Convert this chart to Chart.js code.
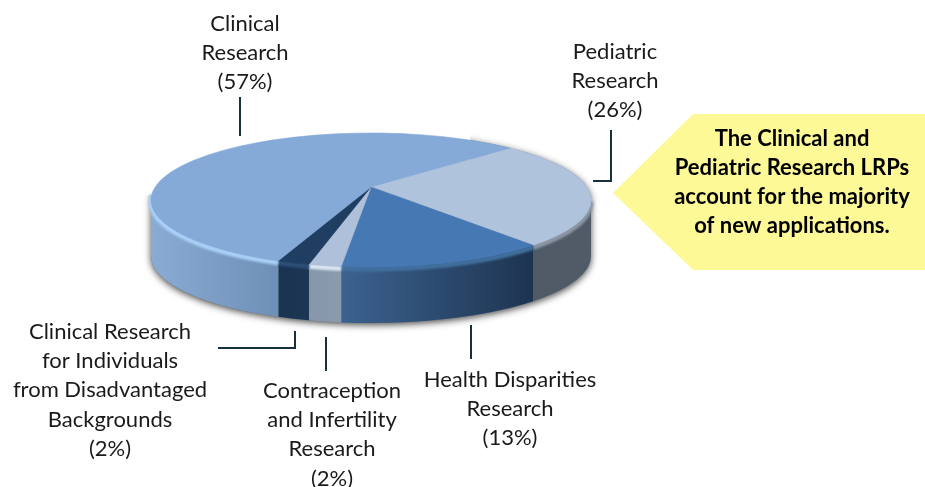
<!DOCTYPE html>
<html><head><meta charset="utf-8">
<script src="https://cdn.jsdelivr.net/npm/chart.js@4"></script>
<style>html,body{margin:0;padding:0;background:#fff}canvas{display:block}</style>
</head><body>
<div style="width:925px;height:487px"><canvas id="c" width="925" height="487"></canvas></div>
<script>
// ---- data ----
const categories = ["Pediatric Research","Health Disparities Research","Contraception and Infertility Research","Clinical Research for Individuals from Disadvantaged Backgrounds","Clinical Research"];
const values = [26,13,2,2,57];
const labelLines = [
  ["Pediatric","Research"],
  ["Health Disparities","Research"],
  ["Contraception","and Infertility","Research"],
  ["Clinical Research","for Individuals","from Disadvantaged","Backgrounds"],
  ["Clinical","Research"]
];
const calloutLines = ["The Clinical and","Pediatric Research LRPs","account for the majority","of new applications."];
// ---- styles ----
const topColors  = ["#b0c3dd","#4679b3","#aec0da","#1f3e62","#85aad8"];
const sideColors = [["#4f5a66","#515b68"],["#3c6290","#1d3450"],["#8697aa","#8a9bae"],["#1a3350","#1c3654"],["#8aabd4","#6e8fb6"]];
const bevelColors= ["#8d98a6","#41709f","#dbe6f3","#2c5078","#a9d1f7"];
// ---- layout ----
const labelPos = [[615,52],[510,380],[332,391],[110,332],[245,24]];
const lineStep = 29.2;
const leaders = [
  [[593,181],[611,181],[611,130]],
  [[471,325],[471,359]],
  [[326,337],[326,371]],
  [[218,348],[295,348],[295,331]],
  [[240,97],[240,136]]
];
const calloutPoly = [[613,193],[693,114],[925,114],[925,270],[693,270]];
const ELLIPSE_CY = 200, SQUASH = 67/220, DEPTH = 56, TILT = 0.09, APEX_V = -0.194;

// Perspective: rim angle of the true circle -> parametric angle on the drawn ellipse
function rimAngle(t){
  const zr=Math.cos(t), zi=Math.sin(t), ai=-TILT;
  const nr=zr, ni=zi+ai;
  const dr=1+ai*zi, di=-ai*zr;
  return Math.atan2(ni*dr-nr*di, nr*dr+ni*di);
}
function angles(el){
  const t1=rimAngle(el.startAngle); let t2=rimAngle(el.endAngle);
  while(t2<=t1) t2+=Math.PI*2;
  return [t1,t2];
}
class Arc3D extends Chart.ArcElement{
  draw(ctx){
    const rx=this.outerRadius, ry=rx*SQUASH, cx=this.x;
    const [t1,t2]=angles(this);
    ctx.save();
    ctx.beginPath();
    ctx.moveTo(cx, ELLIPSE_CY+APEX_V*ry);
    ctx.ellipse(cx,ELLIPSE_CY,rx,ry,0,t1,t2);
    ctx.closePath();
    ctx.fillStyle=this.options.backgroundColor;
    ctx.strokeStyle=this.options.backgroundColor;
    ctx.lineWidth=0.6;
    ctx.fill();ctx.stroke();
    ctx.restore();
  }
}
Arc3D.id='arc3d';
Arc3D.defaults=Chart.ArcElement.defaults;
Arc3D.defaultRoutes=Chart.ArcElement.defaultRoutes;
Arc3D.descriptors=Chart.ArcElement.descriptors;
class Pie3D extends Chart.PieController{}
Pie3D.id='pie3d';
Pie3D.defaults=Object.assign({},Chart.PieController.defaults,{dataElementType:'arc3d'});
Pie3D.overrides=Chart.PieController.overrides;
Chart.register(Arc3D,Pie3D);

const depthPlugin={
  id:'depth',
  beforeDatasetsDraw(chart){
    const ctx=chart.ctx, els=chart.getDatasetMeta(0).data, e0=els[0];
    const cx=e0.x, rx=e0.outerRadius, ry=rx*SQUASH, cy=ELLIPSE_CY;
    // drop shadow of the disc: below the rim and along the far right only
    ctx.save();
    ctx.beginPath();
    ctx.rect(0,195,925,292);
    ctx.rect(470,0,455,195);
    ctx.clip();
    ctx.shadowColor='rgba(30,30,30,0.8)';ctx.shadowBlur=7;ctx.shadowOffsetX=0;ctx.shadowOffsetY=2;
    ctx.fillStyle='#6f7f92';
    ctx.beginPath();
    ctx.ellipse(cx,cy,rx,ry,0,Math.PI,0);
    ctx.ellipse(cx,cy+DEPTH,rx,ry,0,0,Math.PI);
    ctx.closePath();ctx.fill();
    ctx.restore();
    // front walls
    els.forEach((el,i)=>{
      const [t1,t2]=angles(el);
      const a=Math.max(t1,0), b=Math.min(t2,Math.PI);
      if(b<=a) return;
      const g=ctx.createLinearGradient(cx+rx*Math.cos(b),0,cx+rx*Math.cos(a),0);
      g.addColorStop(0,sideColors[i][0]);g.addColorStop(1,sideColors[i][1]);
      ctx.beginPath();
      ctx.ellipse(cx,cy,rx,ry,0,a,b);
      ctx.ellipse(cx,cy+DEPTH,rx,ry,0,b,a,true);
      ctx.closePath();
      ctx.fillStyle=g;ctx.fill();
    });
    // bevel along the front rim; the lit slice wraps a little round the left end
    els.forEach((el,i)=>{
      const [t1,t2]=angles(el);
      const a=Math.max(t1,0), b=t2>Math.PI+0.5?Math.PI+0.12:Math.min(t2,Math.PI);
      if(b<=a) return;
      ctx.save();
      ctx.filter='blur(1.2px)';
      ctx.strokeStyle=bevelColors[i];ctx.lineWidth=5;
      ctx.beginPath();ctx.ellipse(cx,cy+2,rx,ry,0,a,b);ctx.stroke();
      ctx.restore();
    });
  },
  afterDatasetsDraw(chart){
    const ctx=chart.ctx;
    ctx.save();
    // leaders
    ctx.strokeStyle='#16303c';ctx.lineWidth=2;
    leaders.forEach(l=>{
      ctx.beginPath();
      l.forEach((p,i)=>i?ctx.lineTo(p[0],p[1]):ctx.moveTo(p[0],p[1]));
      ctx.stroke();
    });
    // callout
    ctx.fillStyle='#fdf996';
    ctx.beginPath();
    calloutPoly.forEach((p,i)=>i?ctx.lineTo(p[0],p[1]):ctx.moveTo(p[0],p[1]));
    ctx.closePath();ctx.fill();
    // labels
    ctx.textAlign='center';ctx.textBaseline='middle';ctx.fillStyle='#1a1a1a';
    ctx.font='22px Lato';
    categories.forEach((c,i)=>{
      const lines=labelLines[i].concat(['('+values[i]+'%)']);
      lines.forEach((t,j)=>ctx.fillText(t,labelPos[i][0],labelPos[i][1]+j*lineStep));
    });
    ctx.font='bold 22px Lato';ctx.fillStyle='#000';
    calloutLines.forEach((t,j)=>ctx.fillText(t,792,139+j*29));
    ctx.restore();
  }
};

new Chart(document.getElementById('c'),{
  type:'pie3d',
  data:{labels:categories,datasets:[{data:values,backgroundColor:topColors,borderWidth:0}]},
  options:{
    responsive:false,animation:false,rotation:46.1,
    layout:{padding:{left:151,right:334,top:23.5,bottom:23.5}},
    plugins:{legend:{display:false},tooltip:{enabled:false},title:{display:false}}
  },
  plugins:[depthPlugin]
});
</script>
</body></html>
